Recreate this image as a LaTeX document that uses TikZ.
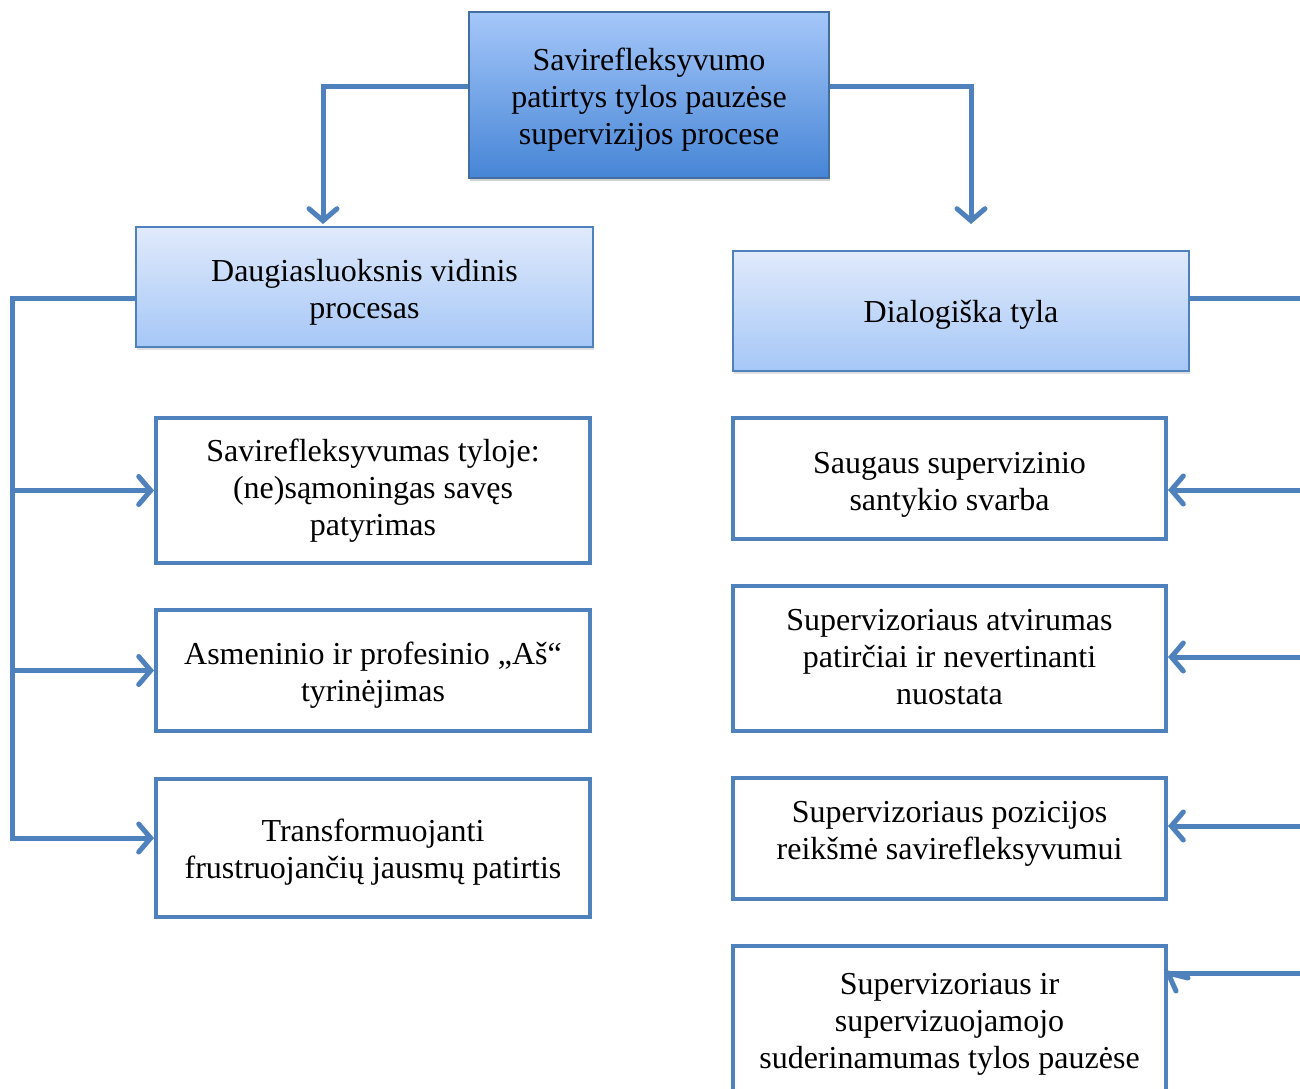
\documentclass[tikz,border=0pt]{standalone}
\usepackage{fontspec}
\setmainfont{Liberation Serif}
\usetikzlibrary{arrows.meta,shadows}
\definecolor{lnblue}{RGB}{79,129,189}
\definecolor{topA}{RGB}{165,199,249}
\definecolor{topB}{RGB}{70,133,214}
\definecolor{subA}{RGB}{224,234,251}
\definecolor{subB}{RGB}{166,199,247}
\tikzset{
  txt/.style={font=\fontsize{32}{37}\selectfont, align=center, inner sep=0pt},
  mainbox/.style={draw=lnblue!85!black, line width=1.5pt, top color=topA, bottom color=topB,
    drop shadow={shadow xshift=1pt, shadow yshift=-3pt, opacity=0.35}},
  subbox/.style={draw=lnblue, line width=2pt, top color=subA, bottom color=subB,
    drop shadow={shadow xshift=1pt, shadow yshift=-3pt, opacity=0.25}},
  leafbox/.style={draw=lnblue, line width=4pt, fill=white},
  conn/.style={draw=lnblue, line width=5pt},
  arr/.style={conn, -{Straight Barb[length=12pt,width=28pt,line cap=round]}},
}
\begin{document}
\begin{tikzpicture}[x=1pt,y=-1pt]
\clip (0,0) rectangle (1300,1088);
\fill[white] (0,0) rectangle (1300,1088);

% boxes
\node[mainbox, minimum width=360pt, minimum height=166pt] (top) at (649,95) {};
\node[subbox, minimum width=457pt, minimum height=120pt] (left) at (364.5,287) {};
\node[subbox, minimum width=456pt, minimum height=120pt] (dial) at (961,311) {};
\node[leafbox, minimum width=434pt, minimum height=145pt] (la) at (373,490.5) {};
\node[leafbox, minimum width=434pt, minimum height=121pt] (lb) at (373,670.5) {};
\node[leafbox, minimum width=434pt, minimum height=138pt] (lc) at (373,848) {};
\node[leafbox, minimum width=433pt, minimum height=121pt] (rd) at (949.5,478.5) {};
\node[leafbox, minimum width=433pt, minimum height=145pt] (re) at (949.5,658.5) {};
\node[leafbox, minimum width=433pt, minimum height=121pt] (rf) at (949.5,838.5) {};
\node[leafbox, minimum width=433pt, minimum height=150pt] (rg) at (949.5,1021) {};

% texts
\node[txt] (topT) at ([yshift=-5pt]top.center)
  {Savirefleksyvumo\\patirtys tylos pauzėse\\supervizijos procese};
\node[txt] (leftT) at ([yshift=-5pt]left.center) {Daugiasluoksnis vidinis\\procesas};
\node[txt] (dialT) at ([yshift=-4pt]dial.center) {Dialogiška tyla};
\node[txt] (laT) at (la.center) {Savirefleksyvumas tyloje:\\(ne)sąmoningas savęs\\patyrimas};
\node[txt] (lbT) at ([yshift=-5pt]lb.center) {Asmeninio ir profesinio „Aš“\\tyrinėjimas};
\node[txt] (lcT) at ([yshift=-4pt]lc.center) {Transformuojanti\\frustruojančių jausmų patirtis};
\node[txt] (rdT) at ([yshift=-6pt]rd.center) {Saugaus supervizinio\\santykio svarba};
\node[txt] (reT) at ([yshift=1pt]re.center) {Supervizoriaus atvirumas\\patirčiai ir nevertinanti\\nuostata};
\node[txt] (rfT) at ([yshift=5pt]rf.center) {Supervizoriaus pozicijos\\reikšmė savirefleksyvumui};
\node[txt] (rgT) at ([yshift=-3pt]rg.center) {Supervizoriaus ir\\supervizuojamojo\\suderinamumas tylos pauzėse};

% top connectors
\draw[arr] ([yshift=9pt]top.west) -| ([xshift=-41.5pt,yshift=2pt]left.north);
\draw[arr, shorten >=26pt] ([yshift=9pt]top.east) -| ([xshift=10pt]dial.north);

% left bracket
\coordinate (lbot) at (12,838);
\draw[arr] ([yshift=-11pt]left.west) -| (lbot) -- ([yshift=10pt]lc.west);
\draw[arr] (la.west -| lbot) -- (la.west);
\draw[arr] (lb.west -| lbot) -- (lb.west);

% right bracket (runs off the page)
\coordinate (rtop) at (1320,298);
\coordinate (rbot) at (1320,1100);
\draw[conn] ([yshift=13pt]dial.east) -- (rtop) -- (rbot);
\draw[arr] ([yshift=-11.5pt]rd.east -| rtop) -- ([yshift=-11.5pt]rd.east);
\draw[arr] ([yshift=1.5pt]re.east -| rtop) -- ([yshift=1.5pt]re.east);
\draw[arr] ([yshift=12.5pt]rf.east -| rtop) -- ([yshift=12.5pt]rf.east);
% last arrow: its head is bent in the original
\coordinate (gtip) at ([yshift=48pt]rg.east);
\draw[conn] (gtip -| rtop) -- (gtip);
\draw[conn, line cap=round] ([xshift=20pt,yshift=-5pt]gtip) -- (gtip) -- ([xshift=8pt,yshift=-18pt]gtip);
\end{tikzpicture}
\end{document}
